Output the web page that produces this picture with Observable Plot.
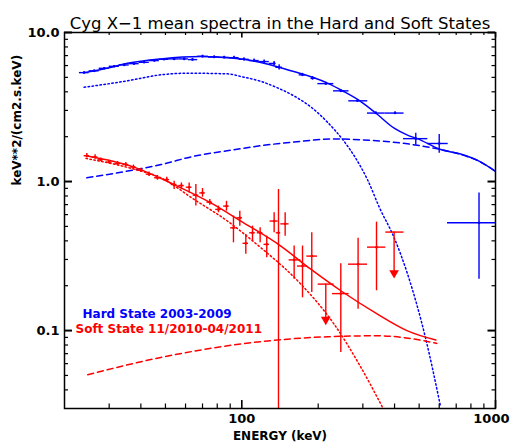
<!DOCTYPE html>
<html>
<head>
<meta charset="utf-8">
<script src="https://cdn.jsdelivr.net/npm/d3@7"></script>
<script src="https://cdn.jsdelivr.net/npm/@observablehq/plot@0.6"></script>
<style>
  html, body { margin: 0; padding: 0; background: white; }
</style>
</head>
<body>
<div id="chart"></div>
<script>
// ---------- Hard state data (blue) ----------
const hardE   = [23.9, 26.2, 28.7, 31.4, 34.4, 37.6, 41.2, 45.2, 49.4, 54.1, 59.3, 63.9, 70.0, 77.8, 85.2, 93.2, 102, 111.8, 122.5, 134.1, 140.3, 173.4, 190, 214.4, 245.6, 285.7, 337.6, 401.9, 485, 600, 861];
const hardElo = [22.9, 25.0, 27.4, 30.0, 32.9, 36.0, 39.4, 43.2, 47.3, 51.7, 56.7, 61.6, 67.0, 73.9, 81.5, 89.2, 97.6, 106.9, 117.1, 128.3, 136.2, 168.3, 187.3, 199.4, 229.9, 264.0, 312.8, 366.5, 434, 541, 647];
const hardEhi = [25.0, 27.4, 30.0, 32.9, 36.0, 39.4, 43.2, 47.3, 51.7, 56.7, 61.6, 67.0, 73.9, 81.5, 89.2, 97.6, 106.9, 117.1, 128.3, 136.2, 144.7, 178.7, 196.3, 230.5, 264.6, 313.7, 366.5, 436, 541, 651, 1150];
const hardF   = [5.38, 5.53, 5.75, 5.93, 6.06, 6.18, 6.31, 6.48, 6.61, 6.65, 6.65, 6.58, 6.92, 6.85, 6.81, 6.78, 6.61, 6.48, 6.38, 6.20, 5.84, 5.20, 4.93, 4.54, 4.06, 3.48, 2.88, 2.88, 1.94, 1.80, 0.529];
const hardFlo = [5.30, 5.45, 5.67, 5.85, 5.98, 6.10, 6.22, 6.39, 6.52, 6.55, 6.55, 6.47, 6.80, 6.73, 6.68, 6.64, 6.46, 6.32, 6.21, 6.00, 5.60, 5.08, 4.80, 4.45, 3.98, 3.41, 2.82, 2.82, 1.75, 1.55, 0.221];
const hardFhi = [5.46, 5.61, 5.83, 6.01, 6.14, 6.26, 6.40, 6.57, 6.70, 6.75, 6.75, 6.69, 7.04, 6.97, 6.94, 6.92, 6.76, 6.64, 6.55, 6.40, 6.08, 5.32, 5.06, 4.63, 4.14, 3.55, 2.94, 2.94, 2.11, 2.07, 0.839];

// Hard state model components
const hardTotE = [23.9, 30, 35.4, 48.0, 68.9, 93.0, 118.8, 150, 217.7, 250, 294.6, 340, 398.5, 450, 492, 608, 729, 861, 1000];
const hardTotF = [5.38, 5.80, 6.21, 6.65, 6.89, 6.71, 6.30, 5.65, 4.57, 4.05, 3.44, 2.85, 2.28, 2.05, 1.94, 1.64, 1.53, 1.37, 1.17];
const hardDotE = [23.9, 35.4, 48, 61.1, 87.8, 100, 118.8, 138.3, 160.7, 190, 217.7, 253, 280, 312.8, 350, 398.5, 450, 531, 608];
const hardDotF = [4.29, 4.74, 5.20, 5.33, 5.28, 5.05, 4.70, 4.25, 3.75, 3.10, 2.50, 1.86, 1.45, 1.03, 0.66, 0.42, 0.24, 0.088, 0.0306];
const hardDashE = [24.5, 40, 48, 64.9, 90, 118.8, 160.7, 231, 322, 450, 608, 729, 861, 1000];
const hardDashF = [1.06, 1.22, 1.30, 1.48, 1.62, 1.74, 1.84, 1.93, 1.89, 1.79, 1.64, 1.52, 1.37, 1.17];

// ---------- Soft state data (red) ----------
const softE   = [24.5, 26.4, 27.8, 30.0, 32.4, 34.9, 37.4, 40.0, 43.1, 46.5, 50.6, 54.1, 57.8, 62.0, 65.9, 70.0, 74.8, 80.9, 87.0, 92.7, 98.2, 103.7, 110.2, 118.1, 125.4, 134.1, 139.5, 148.2, 160.8, 173.5, 188.7, 245.6, 287.3, 339.6];
const softElo = [23.9, 25.7, 27.1, 29.3, 31.6, 34.0, 36.5, 39.0, 42.0, 45.3, 49.3, 52.7, 56.4, 60.4, 64.3, 68.3, 72.9, 78.9, 84.8, 90.4, 95.7, 101.1, 107.4, 115.1, 122.3, 129.2, 136.7, 142.5, 153.6, 165.8, 180.4, 227.8, 263.4, 313.0];
const softEhi = [25.1, 27.1, 28.5, 30.8, 33.2, 35.8, 38.3, 41.0, 44.2, 47.7, 51.9, 55.5, 59.3, 63.6, 67.6, 71.8, 76.7, 83.0, 89.2, 95.0, 100.7, 106.3, 113.0, 121.1, 128.6, 139.0, 142.3, 153.6, 170.9, 181.5, 198.8, 264.8, 313.0, 369.5];
const softF   = [1.49, 1.46, 1.40, 1.35, 1.32, 1.30, 1.25, 1.19, 1.12, 1.06, 1.03, 0.955, 0.94, 0.916, 0.81, 0.839, 0.727, 0.65, 0.684, 0.489, 0.571, 0.385, 0.453, 0.453, 0.379, 0.543, 0.453, 0.52, 0.298, 0.271, 0.316, 0.177, 0.279, 0.363];
const softFlo = [1.44, 1.41, 1.36, 1.31, 1.28, 1.26, 1.21, 1.15, 1.08, 1.02, 0.99, 0.884, 0.884, 0.839, 0.684, 0.785, 0.694, 0.617, 0.633, 0.388, 0.502, 0.325, 0.399, 0.388, 0.308, 0.453, 0.03, 0.43, 0.221, 0.166, 0.18, 0.0714, 0.139, 0.185];
const softFhi = [1.54, 1.51, 1.44, 1.39, 1.36, 1.34, 1.29, 1.23, 1.16, 1.10, 1.07, 1.005, 0.979, 0.979, 0.955, 0.898, 0.758, 0.684, 0.737, 0.586, 0.633, 0.442, 0.502, 0.489, 0.43, 0.617, 0.884, 0.617, 0.369, 0.369, 0.453, 0.281, 0.416, 0.534];

// Soft state upper limits
const ulE    = [214.3, 398.4];
const ulElo  = [200, 369.5];
const ulEhi  = [231, 436];
const ulF    = [0.205, 0.458];
const ulTo   = [0.113, 0.2326];

// Soft state model components
const softTotE = [24.3, 37.6, 54.1, 75.5, 99.1, 142.5, 187, 245.6, 342.6, 450, 582];
const softTotF = [1.49, 1.25, 0.954, 0.719, 0.543, 0.369, 0.258, 0.185, 0.129, 0.0996, 0.0864];
const softDotE = [24.3, 37.6, 47.9, 64.9, 87.8, 118.8, 126.3, 170.9, 231, 294.6, 358.5];
const softDotF = [1.43, 1.21, 1.06, 0.758, 0.543, 0.36, 0.33, 0.205, 0.1105, 0.0567, 0.0306];
const softDashE = [24.7, 47.9, 99, 217.7, 342.6, 478, 587];
const softDashF = [0.0506, 0.066, 0.0813, 0.0909, 0.0923, 0.0877, 0.082];

// ---------- Axis ticks & text ----------
const xMajor = [100, 1000];
const xMinor = [30, 40, 50, 60, 70, 80, 90, 200, 300, 400, 500, 600, 700, 800, 900];
const yMajor = [0.1, 1, 10];
const yMinor = [0.04, 0.05, 0.06, 0.07, 0.08, 0.09, 0.2, 0.3, 0.4, 0.5, 0.6, 0.7, 0.8, 0.9, 2, 3, 4, 5, 6, 7, 8, 9];
const titleText = "Cyg X\u22121 mean spectra in the Hard and Soft States";
const xLabel = "ENERGY (keV)";
const yLabel = "keV**2/(cm2.s.keV)";
const hardLabel = "Hard State 2003-2009";
const softLabel = "Soft State 11/2010-04/2011";

// ---------- tables ----------
const hard = hardE.map((e, i) => ({e, elo: hardElo[i], ehi: hardEhi[i], f: hardF[i], flo: hardFlo[i], fhi: hardFhi[i]}));
const soft = softE.map((e, i) => ({e, elo: softElo[i], ehi: softEhi[i], f: softF[i], flo: softFlo[i], fhi: softFhi[i]}));
const ul = ulE.map((e, i) => ({e, elo: ulElo[i], ehi: ulEhi[i], f: ulF[i], to: ulTo[i]}));
const pairs = (E, F) => E.map((e, i) => ({e, f: F[i]}));

const BLUE = "#0000ff", RED = "#ff0000";
const FH = 376, FW = 431;
const font = "DejaVu Sans";
const CURVE = "monotone-x";

function errMarks(tbl, color) {
  return [
    Plot.ruleX(tbl, {x: "e", y1: "flo", y2: "fhi", stroke: color, strokeWidth: 1.4, clip: true}),
    Plot.ruleY(tbl, {y: "f", x1: "elo", x2: "ehi", stroke: color, strokeWidth: 1.4, clip: true}),
    Plot.dot(tbl, {x: "e", y: "f", r: 1.3, fill: color, clip: true})
  ];
}

const chart = Plot.plot({
  width: 510,
  height: 448,
  marginLeft: 64,
  marginRight: 15,
  marginTop: 32,
  marginBottom: 40,
  x: {type: "log", domain: [20, 1000], axis: null},
  y: {type: "log", domain: [0.03, 10], axis: null},
  style: {fontFamily: font, background: "white"},
  marks: [
    // models
    Plot.line(pairs(hardTotE, hardTotF), {x: "e", y: "f", stroke: BLUE, strokeWidth: 1.5, curve: CURVE, clip: true}),
    Plot.line(pairs(hardDotE, hardDotF), {x: "e", y: "f", stroke: BLUE, strokeWidth: 1.5, strokeDasharray: "1.5,2.5", curve: CURVE, clip: true}),
    Plot.line(pairs(hardDashE, hardDashF), {x: "e", y: "f", stroke: BLUE, strokeWidth: 1.5, strokeDasharray: "6,4", curve: CURVE, clip: true}),
    Plot.line(pairs(softTotE, softTotF), {x: "e", y: "f", stroke: RED, strokeWidth: 1.5, curve: CURVE, clip: true}),
    Plot.line(pairs(softDotE, softDotF), {x: "e", y: "f", stroke: RED, strokeWidth: 1.5, strokeDasharray: "1.5,2.5", curve: CURVE, clip: true}),
    Plot.line(pairs(softDashE, softDashF), {x: "e", y: "f", stroke: RED, strokeWidth: 1.5, strokeDasharray: "6,4", curve: CURVE, clip: true}),
    // data
    ...errMarks(hard, BLUE),
    ...errMarks(soft, RED),
    // upper limits
    Plot.ruleY(ul, {y: "f", x1: "elo", x2: "ehi", stroke: RED, strokeWidth: 1.4}),
    Plot.ruleX(ul, {x: "e", y1: "f", y2: "to", stroke: RED, strokeWidth: 1.4}),
    Plot.dot(ul, {x: "e", y: "to", symbol: "triangle", rotate: 180, r: 3.6, fill: RED, stroke: "none", dy: -3}),
    // frame & ticks
    Plot.frame({stroke: "black", strokeWidth: 1.5}),
    Plot.tickX(xMajor, {x: d => d, insetTop: FH - 8, stroke: "black", strokeWidth: 1.6}),
    Plot.tickX(xMinor, {x: d => d, insetTop: FH - 4.5, stroke: "black", strokeWidth: 1.2}),
    Plot.tickX(xMajor, {x: d => d, insetBottom: FH - 5.5, stroke: "black", strokeWidth: 1.6}),
    Plot.tickX(xMinor, {x: d => d, insetBottom: FH - 3, stroke: "black", strokeWidth: 1.2}),
    Plot.tickY(yMajor, {y: d => d, insetRight: FW - 8, stroke: "black", strokeWidth: 2}),
    Plot.tickY(yMinor, {y: d => d, insetRight: FW - 4, stroke: "black", strokeWidth: 1.2}),
    Plot.tickY(yMajor, {y: d => d, insetLeft: FW - 7.5, stroke: "black", strokeWidth: 2}),
    Plot.tickY(yMinor, {y: d => d, insetLeft: FW - 3.5, stroke: "black", strokeWidth: 1.2}),
    // tick labels
    Plot.text(yMajor, {y: d => d, text: d => d.toFixed(1), frameAnchor: "left", dx: -5, textAnchor: "end", fontWeight: "bold", fontSize: 13, fill: "black"}),
    Plot.text(xMajor.slice(0, 1), {x: d => d, text: d => String(d), frameAnchor: "bottom", dy: 14.5, fontWeight: "bold", fontSize: 13, fill: "black"}),
    Plot.text(xMajor.slice(1), {x: d => d, text: d => String(d), frameAnchor: "bottom", dy: 14.5, dx: 14, textAnchor: "end", fontWeight: "bold", fontSize: 13, fill: "black"}),
    // axis labels & title
    Plot.text([xLabel], {frameAnchor: "bottom", dy: 31, fontWeight: "bold", fontSize: 12, fill: "black"}),
    Plot.text([yLabel], {frameAnchor: "left", dx: -47, dy: -35, rotate: -90, fontWeight: "bold", fontSize: 12, fill: "black"}),
    Plot.text([titleText], {frameAnchor: "top", dy: -15, fontSize: 16.5, fill: "black"}),
    // legend
    Plot.text([hardLabel], {frameAnchor: "top-left", dx: 18, dy: 277, textAnchor: "start", fill: BLUE, fontWeight: "bold", fontSize: 12}),
    Plot.text([softLabel], {frameAnchor: "top-left", dx: 11, dy: 292, textAnchor: "start", fill: RED, fontWeight: "bold", fontSize: 12})
  ]
});
document.getElementById("chart").appendChild(chart);
</script>
</body>
</html>
